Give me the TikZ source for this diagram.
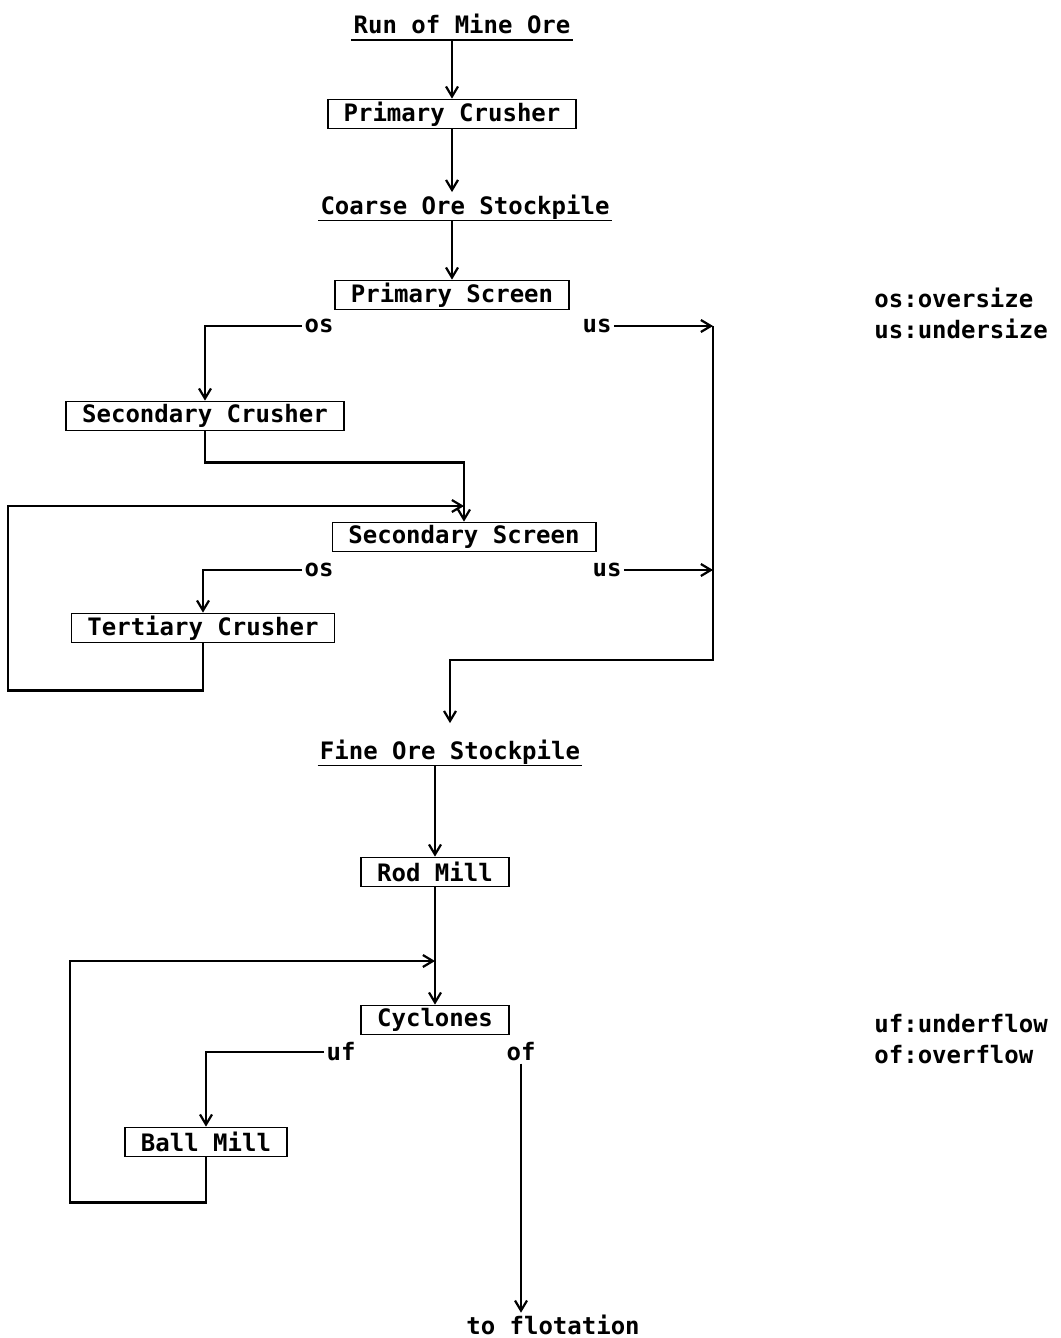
\documentclass[tikz,border=0pt]{standalone}
\usepackage{fontspec}
\setmonofont{DejaVu Sans Mono}
\usetikzlibrary{arrows.meta,positioning,calc}
\newcommand{\flowfont}{\fontsize{12}{14}\selectfont\ttfamily\bfseries}
\tikzset{
  unit/.style={draw, line width=0.9pt, font=\flowfont, inner xsep=8pt, inner ysep=0pt, minimum height=14.5pt},
  stock/.style={font=\flowfont, inner sep=1pt, text depth=2pt},
  tag/.style={font=\flowfont, inner sep=1pt},
  flow/.style={line width=1.1pt, -{Straight Barb[length=5pt,width=6pt]}}
}

\begin{document}
\begin{tikzpicture}[x=0.5pt,y=-0.5pt]
  \useasboundingbox (0,0) rectangle (1060,1338);

  % crushing
  \node[stock, anchor=base] (rom) at (462,34) {Run of Mine Ore};
  \node[unit] (pc) at (452,114) {Primary Crusher};
  \node[stock, anchor=base] (cos) at (465,214) {Coarse Ore Stockpile};
  \node[unit] (ps) at (452,295) {Primary Screen};
  \node[unit] (sc) at (205,416) {Secondary Crusher};
  \node[unit] (ss) at (464,537) {Secondary Screen};
  \node[unit] (tc) at (203,628) {Tertiary Crusher};
  \node[tag] (os1) at (319,326) {os};
  \node[tag] (us1) at (597,326) {us};
  \node[tag] (os2) at (319,570) {os};
  \node[tag] (us2) at (607,570) {us};
  \coordinate (j1) at (713,326);
  \coordinate (j2) at (713,570);
  \coordinate (j3) at (713,660);
  \coordinate (back1) at (8,506);

  \draw[line width=0.9pt] (rom.south west) -- (rom.south east);
  \draw[line width=0.9pt] (cos.south west) -- (cos.south east);
  \draw[flow] (rom.south -| pc.north) -- (pc.north);
  \draw[flow] (pc.south) -- (pc.south |- cos.north);
  \draw[flow] (cos.south -| ps.north) -- (ps.north);
  \draw[flow] (os1.west) -| (sc.north);
  \draw[flow] (us1.east) -- (us1.east -| j1);
  \draw[flow] (sc.south) -- ++(0,31) -| (ss.north);
  \draw[flow] (os2.west) -| (tc.north);
  \draw[flow] (us2.east) -- (us2.east -| j2);
  \draw[flow] (tc.south) -- ++(0,47) -| (back1) -- (back1 -| ss.north);

  % grinding
  \node[stock, anchor=base] (fos) at (450,759) {Fine Ore Stockpile};
  \node[unit] (rm) at (435,872) {Rod Mill};
  \node[unit] (cy) at (435,1020) {Cyclones};
  \node[unit] (bm) at (206,1142) {Ball Mill};
  \node[tag] (uf) at (341,1052) {uf};
  \node[tag] (of) at (521,1052) {of};
  \node[tag] (flot) at (553,1325) {to flotation};
  \coordinate (back2) at (70,961);

  \draw[line width=0.9pt] (fos.south west) -- (fos.south east);
  \draw[flow, shorten >=7pt] (j1) -- (j3) -| (fos.north);
  \draw[flow] (fos.south -| rm.north) -- (rm.north);
  \draw[flow] (rm.south) -- (cy.north);
  \draw[flow] (uf.west) -| (bm.north);
  \draw[flow] (bm.south) -- ++(0,45) -| (back2) -- (back2 -| cy.north);
  \draw[flow] (of.south) -- (of.south |- flot.north);

  % legend
  \node[tag, anchor=west] (leg1) at (872,298) {os:oversize};
  \node[tag, anchor=west] (leg2) at (872,329) {us:undersize};
  \node[tag, anchor=west] (leg3) at (872,1024) {uf:underflow};
  \node[tag, anchor=west] (leg4) at (872,1055) {of:overflow};
\end{tikzpicture}
\end{document}
